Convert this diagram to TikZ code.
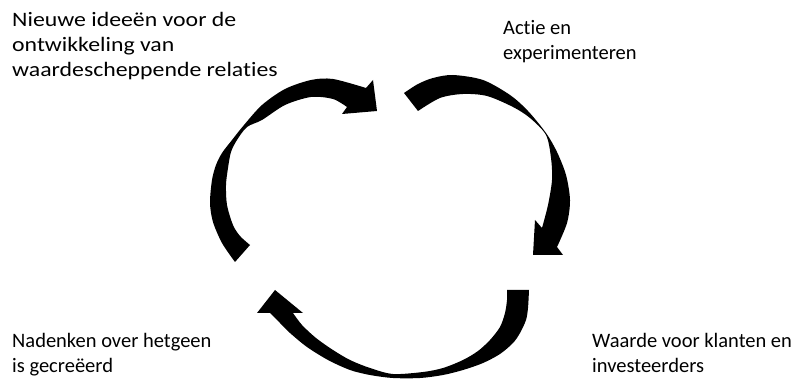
\documentclass[tikz,border=0pt]{standalone}
\usepackage{fontspec}
\setmainfont{Carlito}[Ligatures=NoCommon]
\newfontfamily\widefont{Carlito}[Ligatures=NoCommon,FakeStretch=1.16]
\begin{document}
\begin{tikzpicture}[x=1pt,y=-1pt,
  label/.style={anchor=base west,align=left,inner sep=0pt,
    font=\fontsize{20.5}{25}\selectfont},
  curvedarrow/.style={fill=black}]
\useasboundingbox (0,0) rectangle (798,379);

% captions (anchored at the baseline of their last line)
\node[label,font=\widefont\fontsize{20.5}{25}\selectfont] (ideas) at (12,77)
  {Nieuwe ideeën voor de\\ontwikkeling van\\waardescheppende relaties};
\node[label] (action)  at (503,60)  {Actie en\\experimenteren};
\node[label] (reflect) at (12,373)  {Nadenken over hetgeen\\is gecreëerd};
\node[label] (value)   at (592,373) {Waarde voor klanten en\\investeerders};

% upper left arrow, pointing right
\fill[curvedarrow] (235,262)
  -- plot[smooth] coordinates {(235,262) (222,243) (213,222) (210,203) (212,180) (216,165) (222,153) (232,140) (244,125) (262,105) (285,89) (311,80) (333,79) (366,88)}
  -- (373,80) -- (377,111) -- (342,114)
  -- plot[smooth] coordinates {(347,107) (333,99) (311,97) (285,105) (262,120) (247,127) (237,140) (231,152) (228,168) (226,185) (227,205) (233,225) (240,236) (250,245)}
  -- cycle;

% upper right arrow, pointing down
\fill[curvedarrow] (404,93)
  -- plot[smooth] coordinates {(404,93) (418,84) (433,78) (453,75) (483,80) (510,95) (528,111) (546,133) (557,152) (566,175) (570,200) (567,223) (557,247)}
  -- (563,255) -- (533,255) -- (535,220)
  -- plot[smooth] coordinates {(542,228) (548,205) (552,180) (551,158) (546,135) (530,118) (513,107) (487,96) (463,94) (440,98) (418,111)}
  -- cycle;

% bottom arrow, pointing up left
\fill[curvedarrow] (507,290) -- (529,290)
  -- plot[smooth] coordinates {(529,290) (528,308) (526,320) (520,333) (513,343) (500,354) (483,363) (463,370) (443,375) (420,378) (393,378) (370,375) (350,370) (328,360) (307,347) (290,333) (280,323) (270,313)}
  -- (257,313) -- (275,290) -- (303,313)
  -- plot[smooth] coordinates {(293,313) (302,325) (316,338) (333,350) (350,360) (370,368) (393,374) (423,372) (443,368) (463,360) (478,351) (490,340) (500,327) (505,313) (507,300) (507,290)}
  -- cycle;
\end{tikzpicture}
\end{document}
